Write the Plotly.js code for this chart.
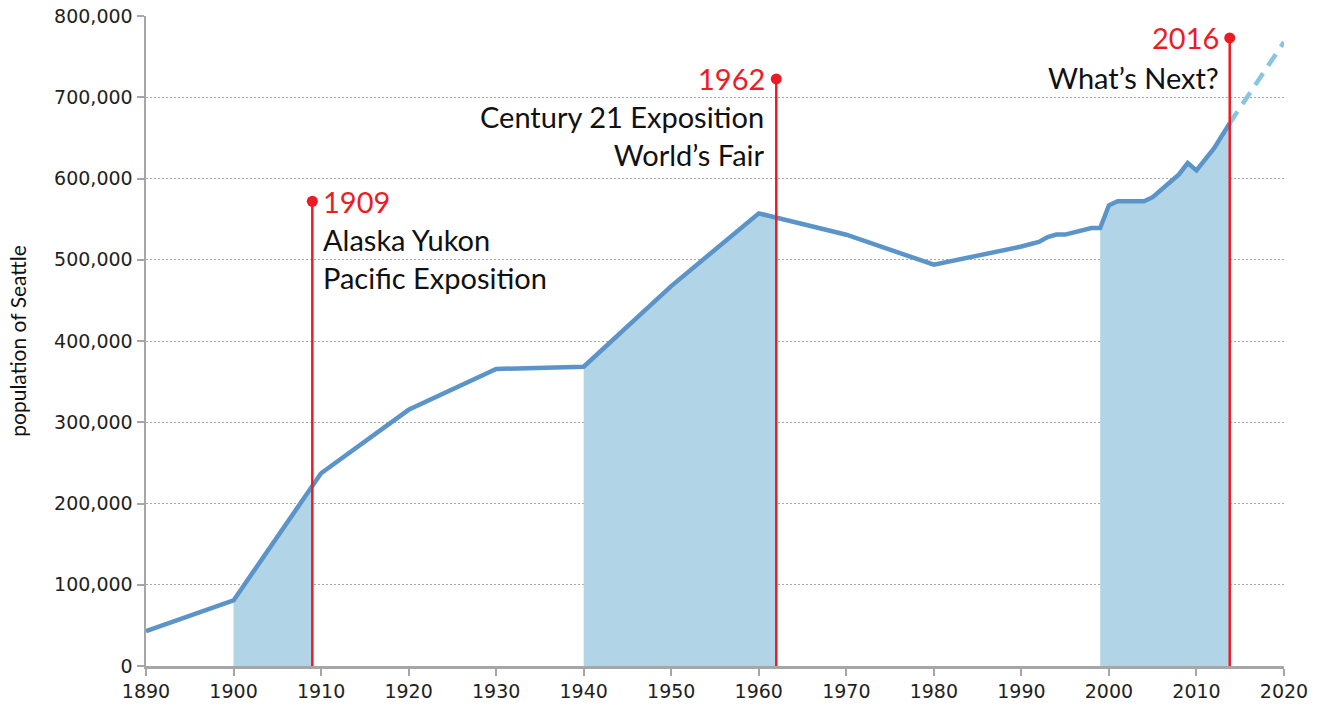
<!DOCTYPE html>
<html>
<head>
<meta charset="utf-8">
<script src="https://cdn.plot.ly/plotly-3.0.1.min.js"></script>
<style>html,body{margin:0;padding:0;background:#fff;}#chart{width:1318px;height:706px;}</style>
</head>
<body>
<div id="chart"></div>
<script>
// Population of Seattle
var years = [1890, 1900, 1910, 1920, 1930, 1940, 1950, 1960, 1970, 1980, 1990,
             1992, 1993, 1994, 1995, 1998, 1999, 2000, 2001, 2004, 2005, 2008, 2009, 2010, 2012, 2013.8];
var population = [42837, 80671, 237194, 315312, 365583, 368302, 467591, 557087, 530831, 493846, 516259,
                  522000, 528000, 531000, 531000, 539000, 539000, 567000, 572000, 572000, 577000, 605000, 619000, 610000, 637000, 668000];

// projection
var projYears = [2013.8, 2020];
var projPopulation = [668000, 768000];

// highlighted periods
var spanStart = [1900, 1940, 1999];
var spanEnd = [1909, 1962, 2013.8];

// events
var eventX = [1909, 1962, 2013.8];
var eventTop = [572000, 722500, 773000];
var eventYear = ['1909', '1962', '2016'];
var eventText = ['Alaska Yukon<br>Pacific Exposition', 'Century 21 Exposition<br>World\u2019s Fair', 'What\u2019s Next?'];
var eventTextY = [501000, 653000, 724000];
var eventSide = ['right', 'left', 'left'];

var yTicks = [0, 100000, 200000, 300000, 400000, 500000, 600000, 700000, 800000];
var xTicks = [1890, 1900, 1910, 1920, 1930, 1940, 1950, 1960, 1970, 1980, 1990, 2000, 2010, 2020];

function interp(x) {
  for (var i = 0; i < years.length - 1; i++) {
    if (x >= years[i] && x <= years[i + 1]) {
      var t = (x - years[i]) / (years[i + 1] - years[i]);
      return population[i] + t * (population[i + 1] - population[i]);
    }
  }
  return population[population.length - 1];
}

var traces = [];
var FILL = '#b1d4e6';
spanStart.forEach(function (s, k) {
  var e = spanEnd[k];
  var xs = [s], ys = [interp(s)];
  for (var i = 0; i < years.length; i++) {
    if (years[i] > s && years[i] < e) { xs.push(years[i]); ys.push(population[i]); }
  }
  xs.push(e); ys.push(interp(e));
  traces.push({x: xs, y: ys, type: 'scatter', mode: 'lines', fill: 'tozeroy',
    fillcolor: FILL, line: {width: 0, color: FILL}, hoverinfo: 'skip', showlegend: false});
});

traces.push({x: projYears, y: projPopulation, type: 'scatter', mode: 'lines',
  line: {color: '#86c6e4', width: 4.5, dash: '14px,9px'}, showlegend: false});

traces.push({x: years, y: population, type: 'scatter', mode: 'lines',
  line: {color: '#5b94c9', width: 4.5}, showlegend: false});

var annotations = [];
var annFont = 'Lato, "Open Sans", sans-serif';
eventX.forEach(function (x, k) {
  traces.push({x: [x, x], y: [0, eventTop[k]], type: 'scatter', mode: 'lines',
    line: {color: '#ed1c24', width: 2.5}, cliponaxis: false, showlegend: false});
  traces.push({x: [x], y: [eventTop[k]], type: 'scatter', mode: 'markers',
    marker: {size: 11, color: '#ed1c24', opacity: 1, line: {width: 0}},
    cliponaxis: false, showlegend: false});
  var right = eventSide[k] === 'right';
  annotations.push({x: x, y: eventTop[k], xref: 'x', yref: 'y', text: eventYear[k],
    showarrow: false, xanchor: right ? 'left' : 'right', yanchor: 'middle',
    xshift: right ? 9 : -9, font: {family: annFont, size: 29, color: '#ed1c24'}});
  annotations.push({x: x, y: eventTextY[k], xref: 'x', yref: 'y', text: eventText[k],
    showarrow: false, xanchor: right ? 'left' : 'right', yanchor: 'middle', align: right ? 'left' : 'right',
    xshift: right ? 9 : -9, font: {family: annFont, size: 29, color: '#111'}});
});

var layout = {
  width: 1318, height: 706,
  margin: {l: 146, r: 34, t: 16, b: 40},
  paper_bgcolor: '#fff', plot_bgcolor: '#fff',
  showlegend: false,
  xaxis: {range: [1890, 2020], tickvals: xTicks, ticktext: xTicks.map(String),
    showgrid: false, zeroline: false, showline: true, linecolor: '#a6a6a6', linewidth: 2.5,
    ticks: 'outside', ticklen: 7, tickwidth: 2, tickcolor: '#a6a6a6',
    tickfont: {family: '"DejaVu Sans", Verdana, sans-serif', size: 19, color: '#231f20'}},
  yaxis: {range: [0, 800000], tickvals: yTicks, ticktext: yTicks.map(function (v) { return v.toLocaleString('en-US'); }),
    showgrid: true, gridcolor: '#a8a8a8', gridwidth: 1, griddash: '2px,2px', zeroline: false,
    showline: true, linecolor: '#a6a6a6', linewidth: 2.5,
    ticks: 'outside', ticklen: 7, tickwidth: 2, tickcolor: '#a6a6a6',
    tickfont: {family: '"DejaVu Sans", Verdana, sans-serif', size: 19, color: '#231f20'},
    title: {text: 'population of Seattle', standoff: 22,
      font: {family: annFont, size: 21, color: '#111'}}},
  annotations: annotations
};

Plotly.newPlot('chart', traces, layout, {displayModeBar: false, staticPlot: true});
</script>
</body>
</html>
